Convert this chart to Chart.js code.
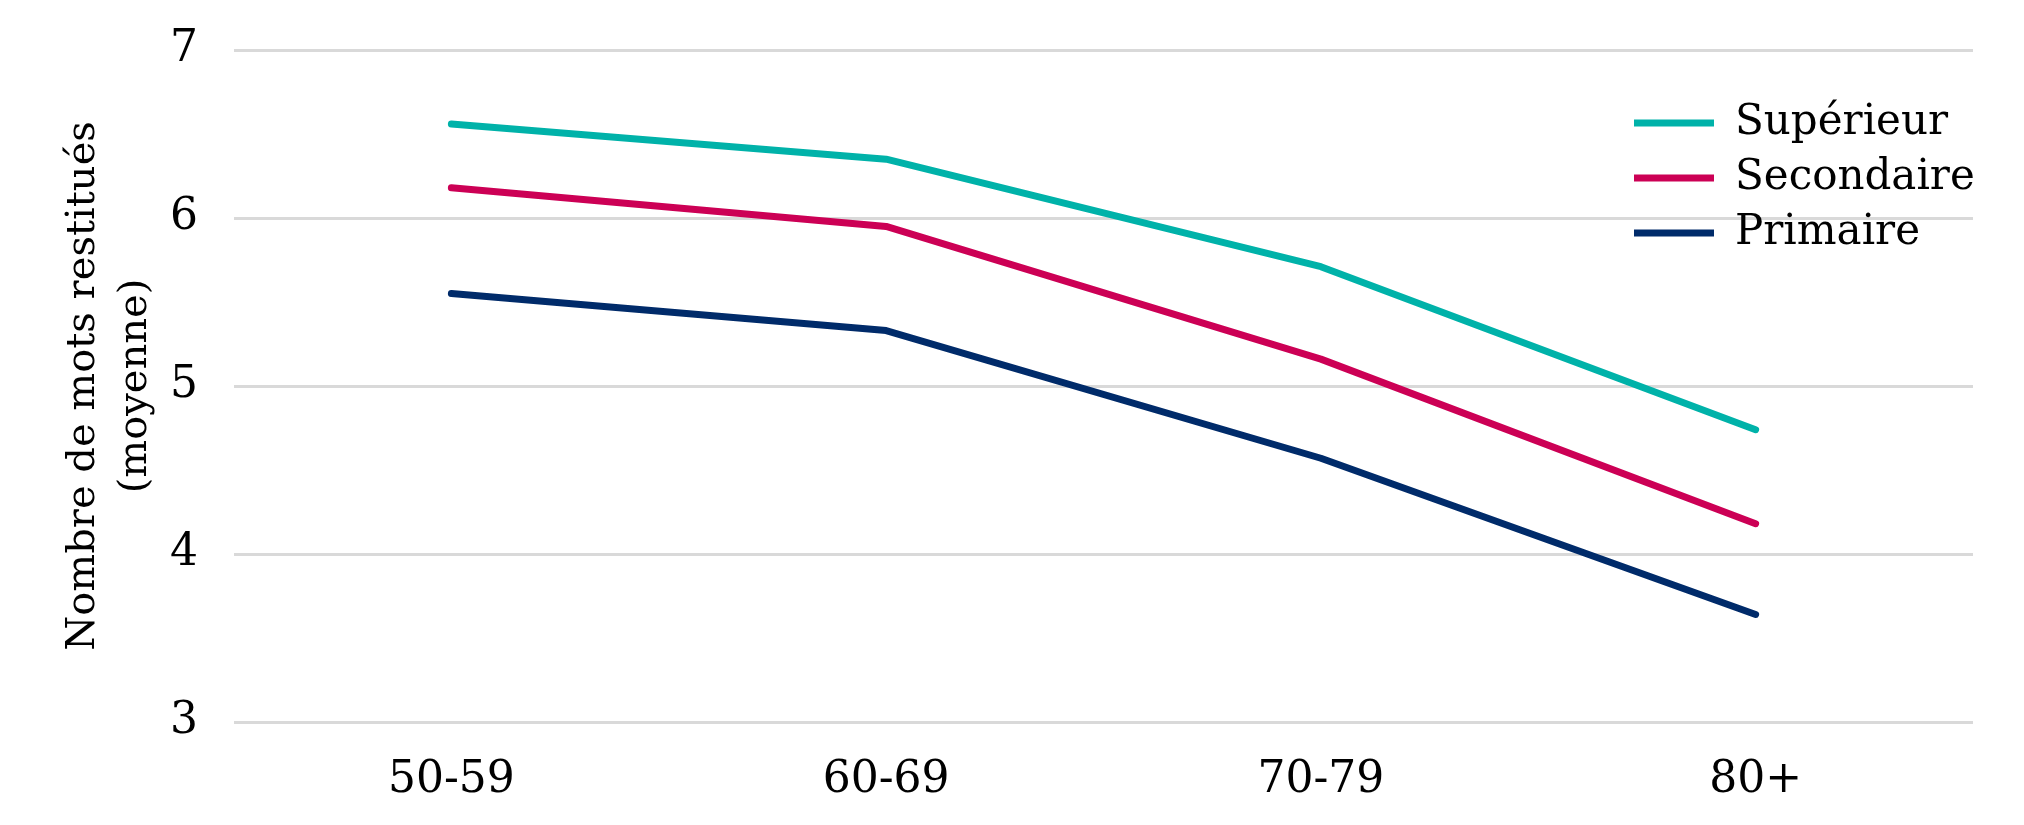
<!DOCTYPE html>
<html>
<head>
<meta charset="utf-8">
<script src="https://cdn.jsdelivr.net/npm/chart.js@4.4.1/dist/chart.umd.min.js"></script>
<style>
  html, body { margin: 0; padding: 0; background: #ffffff; }
  #wrap { width: 2024px; height: 825px; position: relative; }
</style>
</head>
<body>
<div id="wrap"><canvas id="c"></canvas></div>
<script>
const categories = ['50-59', '60-69', '70-79', '80+'];
const seriesNames = ['Supérieur', 'Secondaire', 'Primaire'];
const superieur = [6.56, 6.35, 5.71, 4.74];
const secondaire = [6.18, 5.95, 5.16, 4.18];
const primaire = [5.55, 5.33, 4.57, 3.64];
const yTicks = [3, 4, 5, 6, 7];
const yTitle = ['Nombre de mots restitués', '(moyenne)'];

const colors = ['#00B2A9', '#CC0055', '#002B6A'];
const FONT = "'DejaVu Serif', 'Liberation Serif', serif";

function ds(label, data, color) {
  return {
    label, data,
    borderColor: color, backgroundColor: color,
    borderWidth: 7, borderCapStyle: 'round', borderJoinStyle: 'round',
    pointRadius: 0, pointHoverRadius: 0, tension: 0, fill: false
  };
}

const moveLegend = {
  id: 'moveLegend',
  afterLayout(chart) {
    const l = chart.legend, a = chart.chartArea;
    const h = l.height, w = l.width;
    l.left = a.right - 352; l.right = l.left + w;
    l.top = a.top + 39; l.bottom = l.top + h;
  }
};

new Chart(document.getElementById('c'), {
  type: 'line',
  data: {
    labels: categories,
    datasets: [
      ds(seriesNames[0], superieur, colors[0]),
      ds(seriesNames[1], secondaire, colors[1]),
      ds(seriesNames[2], primaire, colors[2])
    ]
  },
  plugins: [moveLegend],
  options: {
    responsive: true, maintainAspectRatio: false, devicePixelRatio: 1,
    animation: false,
    layout: { padding: { left: 58, right: 51, top: 50, bottom: 0 } },
    plugins: {
      tooltip: { enabled: false },
      legend: {
        position: 'chartArea', align: 'start',
        labels: {
          usePointStyle: true, pointStyle: 'line', pointStyleWidth: 80,
          boxHeight: 42, padding: 13, color: '#000',
          font: { family: FONT, size: 42 }
        }
      }
    },
    scales: {
      x: {
        offset: true,
        grid: { display: false, drawTicks: false },
        border: { display: false },
        ticks: { color: '#000', padding: 32, font: { family: FONT, size: 44, lineHeight: 1.2 } },
        afterFit(scale) { scale.height = 103; }
      },
      y: {
        min: yTicks[0], max: yTicks[yTicks.length - 1],
        afterBuildTicks(axis) { axis.ticks = yTicks.map(v => ({ value: v })); },
        grid: { color: '#D9D9D9', lineWidth: 3, drawTicks: false },
        border: { display: false },
        ticks: { color: '#000', padding: 36, font: { family: FONT, size: 44 } },
        title: {
          display: true, text: yTitle, color: '#000',
          padding: { top: 0, bottom: 0 },
          font: { family: FONT, size: 40, lineHeight: 1.3 }
        },
        afterFit(scale) { scale.width = 176; scale.paddingTop = 10; scale.paddingBottom = 10; }
      }
    }
  }
});
</script>
</body>
</html>
